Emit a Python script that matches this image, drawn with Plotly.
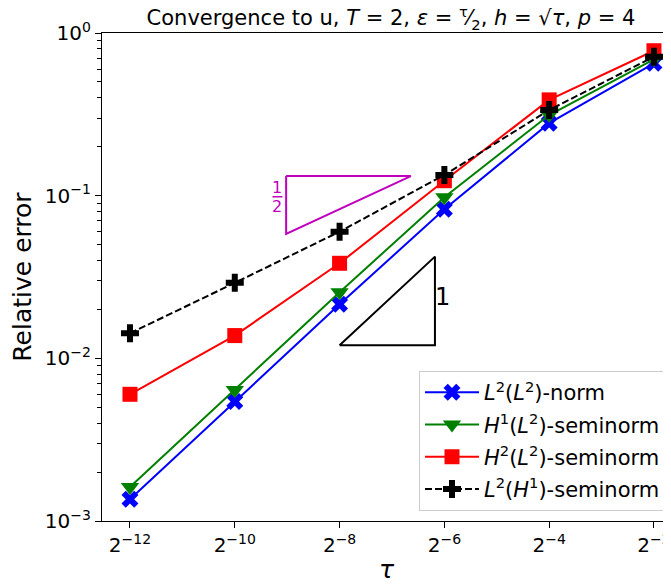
import numpy as np
import plotly.graph_objects as go

# ---- data ----
tau_exp = [-12, -10, -8, -6, -4, -2]
tau = [2.0 ** e for e in tau_exp]
l2l2 = [1.36e-3, 5.42e-3, 0.0215, 0.0825, 0.279, 0.651]
h1l2 = [1.62e-3, 6.39e-3, 0.0255, 0.0978, 0.313, 0.689]
h2l2 = [6.01e-3, 0.0138, 0.0384, 0.1236, 0.388, 0.778]
l2h1 = [0.01426, 0.0291, 0.0601, 0.134, 0.336, 0.715]

# slope triangles (corner coordinates)
half_x = [2.0 ** -9.02, 2.0 ** -6.64]
half_y = [0.0581, 0.132]
one_x = [2.0 ** -8.0, 2.0 ** -6.18]
one_y = [0.01204, 0.0422]
# fraction bar of the "1/2" label
frac_x = [2.0 ** -9.28, 2.0 ** -9.09]
frac_y = [0.0985, 0.0985]

xtick_exp = tau_exp
ytick_exp = [-3, -2, -1, 0]

FONT = "DejaVu Sans"
L2 = np.log10(2.0)
MAG = "#bf00bf"

fig = go.Figure()

series = [
    (l2l2, "<i>L</i><sup>2</sup>(<i>L</i><sup>2</sup>)-norm", "blue", "x", 15, "solid"),
    (h1l2, "<i>H</i><sup>1</sup>(<i>L</i><sup>2</sup>)-seminorm", "green", "triangle-down", 16, "solid"),
    (h2l2, "<i>H</i><sup>2</sup>(<i>L</i><sup>2</sup>)-seminorm", "red", "square", 15, "solid"),
    (l2h1, "<i>L</i><sup>2</sup>(<i>H</i><sup>1</sup>)-seminorm", "black", "cross", 15, "7px,3px"),
]
for i, (vals, name, col, sym, sz, dash) in enumerate(series):
    fig.add_trace(go.Scatter(
        x=tau, y=vals, name=name, mode="lines+markers",
        line=dict(color=col, width=2, dash=dash),
        marker=dict(symbol=sym, size=sz, color=col, line=dict(width=0)),
        legendgroup=f"g{i}",
    ))

# slope 1/2 triangle (magenta)
fig.add_trace(go.Scatter(
    x=[half_x[0], half_x[1], half_x[0], half_x[0]],
    y=[half_y[1], half_y[1], half_y[0], half_y[1]],
    mode="lines", line=dict(color=MAG, width=2), showlegend=False,
    hoverinfo="skip"))
# slope 1 triangle (black)
fig.add_trace(go.Scatter(
    x=[one_x[0], one_x[1], one_x[1], one_x[0]],
    y=[one_y[0], one_y[0], one_y[1], one_y[0]],
    mode="lines", line=dict(color="black", width=2), showlegend=False,
    hoverinfo="skip"))
# fraction bar
fig.add_trace(go.Scatter(
    x=frac_x, y=frac_y, mode="lines", line=dict(color=MAG, width=1.5),
    showlegend=False, hoverinfo="skip"))

# labels of slope triangles
fx = np.log10(2.0 ** -9.185)
fig.add_annotation(x=fx, y=-0.949, text="1", showarrow=False,
                   font=dict(family=FONT, size=16, color=MAG))
fig.add_annotation(x=fx, y=-1.068, text="2", showarrow=False,
                   font=dict(family=FONT, size=16, color=MAG))
fig.add_annotation(x=np.log10(2.0 ** -6.03), y=np.log10(0.0239), text="1",
                   showarrow=False, xanchor="center",
                   font=dict(family=FONT, size=24, color="black"))

x0 = -12.534 * L2
x1 = -1.675 * L2

minor_y = [k * 10.0 ** e for e in [-3, -2, -1] for k in range(2, 10)]

# page body has an 8 px margin: the figure is sized/offset to compensate
W, H = 663, 576
ML, MT, MB = 94, 25, 63
PW = W - ML

fig.update_layout(
    width=W, height=H,
    margin=dict(l=ML, r=0, t=MT, b=MB),
    paper_bgcolor="white", plot_bgcolor="white",
    font=dict(family=FONT, color="black"),
    title=dict(
        text="Convergence to u, <i>T</i> = 2, <i>ε</i> = <sup>τ</sup>⁄<sub>2</sub>, "
             "<i>h</i> = √<i>τ</i>, <i>p</i> = 4",
        x=(391 - 8) / W, xanchor="center", y=1 - 10 / H, yanchor="middle",
        font=dict(family=FONT, size=21, color="black")),
    xaxis=dict(
        type="log", range=[x0, x1],
        tickvals=[2.0 ** e for e in xtick_exp],
        ticktext=[f"2<sup>−{-e}</sup>" for e in xtick_exp],
        ticks="outside", ticklen=6, tickwidth=1, tickcolor="black",
        showline=True, linecolor="black", linewidth=1.2, mirror=True,
        showgrid=False, zeroline=False, automargin=False,
        tickfont=dict(family=FONT, size=20),
        title=dict(text="<i>τ</i>", font=dict(family=FONT, size=25), standoff=6),
    ),
    yaxis=dict(
        type="log", range=[-3, 0],
        tickvals=[10.0 ** e for e in ytick_exp],
        ticktext=[("10<sup>0</sup>" if e == 0 else f"10<sup>−{-e}</sup>") for e in ytick_exp],
        ticks="outside", ticklen=6, tickwidth=1, tickcolor="black",
        minor=dict(tickvals=minor_y, ticks="outside", ticklen=3.5, tickwidth=1,
                   tickcolor="black", showgrid=False),
        showline=True, linecolor="black", linewidth=1.2, mirror=False,
        showgrid=False, zeroline=False, automargin=False,
        tickfont=dict(family=FONT, size=20),
        title=dict(text="Relative error", font=dict(family=FONT, size=25), standoff=13),
    ),
    legend=dict(
        x=(419 - 102) / PW, xanchor="left",
        y=(521 - 511) / 488, yanchor="bottom",
        bgcolor="rgba(255,255,255,0.8)", bordercolor="#cccccc", borderwidth=1,
        font=dict(family=FONT, size=21, color="black"),
        tracegroupgap=2, itemwidth=54,
    ),
    showlegend=True,
)

fig.write_html("out.html")
